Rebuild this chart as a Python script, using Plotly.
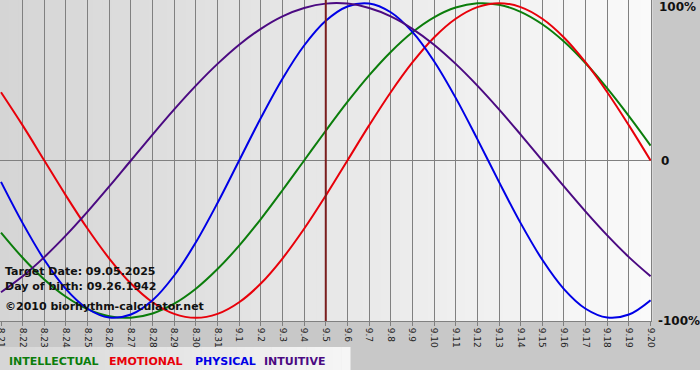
import plotly.graph_objects as go

# ---- data ----
dates = ["8.21", "8.22", "8.23", "8.24", "8.25", "8.26", "8.27", "8.28", "8.29", "8.30", "8.31",
         "9.1", "9.2", "9.3", "9.4", "9.5", "9.6", "9.7", "9.8", "9.9", "9.10",
         "9.11", "9.12", "9.13", "9.14", "9.15", "9.16", "9.17", "9.18", "9.19", "9.20"]

intellectual = [-0.458, -0.618, -0.756, -0.866, -0.945, -0.990, -0.999, -0.972, -0.910, -0.815, -0.690,
                -0.541, -0.372, -0.189, 0.000, 0.189, 0.372, 0.541, 0.690, 0.815, 0.910,
                0.972, 0.999, 0.990, 0.945, 0.866, 0.756, 0.618, 0.458, 0.282, 0.095]
emotional = [0.434, 0.223, 0.000, -0.223, -0.434, -0.623, -0.782, -0.901, -0.975, -1.000, -0.975,
             -0.901, -0.782, -0.623, -0.434, -0.223, 0.000, 0.223, 0.434, 0.623, 0.782,
             0.901, 0.975, 1.000, 0.975, 0.901, 0.782, 0.623, 0.434, 0.223, 0.000]
physical = [-0.136, -0.398, -0.631, -0.817, -0.942, -0.998, -0.979, -0.888, -0.731, -0.520, -0.270,
            0.000, 0.270, 0.520, 0.731, 0.888, 0.979, 0.998, 0.942, 0.817, 0.631,
            0.398, 0.136, -0.136, -0.398, -0.631, -0.817, -0.942, -0.998, -0.979, -0.888]
intuitive = [-0.837, -0.736, -0.614, -0.476, -0.325, -0.165, 0.000, 0.165, 0.325, 0.476, 0.614,
             0.736, 0.837, 0.916, 0.969, 0.997, 0.997, 0.969, 0.916, 0.837, 0.736,
             0.614, 0.476, 0.325, 0.165, 0.000, -0.165, -0.325, -0.476, -0.614, -0.736]

series_names = ["INTELLECTUAL", "EMOTIONAL", "PHYSICAL", "INTUITIVE"]
series_colors = ["#0b7d0b", "#e8000a", "#0000e6", "#4b0a82"]
target_date = "9.5"
info_lines = ["Target Date: 09.05.2025", "Day of birth: 09.26.1942", "\u00a92010 biorhythm-calculator.net"]
y_labels = ["100%", "0", "-100%"]

# ---- layout geometry ----
W, H = 700, 380
PLOT_W, PLOT_H = 651, 321


def px(x):
    return x / PLOT_W


def py(y):
    return (PLOT_H - y) / PLOT_H


fig = go.Figure()
for name, vals, col in zip(series_names, [intellectual, emotional, physical, intuitive], series_colors):
    fig.add_trace(go.Scatter(x=list(range(len(dates))), y=vals, mode="lines", name=name,
                             line=dict(color=col, width=2, shape="spline", smoothing=1.0),
                             hoverinfo="skip"))

shapes = []
# horizontal gradient of plot background
N = 70
c0, c1 = 213, 250
for i in range(N):
    c = round(c0 + (c1 - c0) * (i + 0.5) / N)
    shapes.append(dict(type="rect", xref="x domain", yref="y domain", x0=i / N, x1=(i + 1) / N + 0.002,
                       y0=0, y1=1, fillcolor=f"rgb({c},{c},{c})", line=dict(width=0), layer="below"))
# legend band gradient
NB = 40
for i in range(NB):
    c = round(214 + (246 - 214) * (i + 0.5) / NB)
    shapes.append(dict(type="rect", xref="paper", yref="paper", x0=px(350 * i / NB), x1=px(350 * (i + 1) / NB + 0.5),
                       y0=py(372), y1=py(347), fillcolor=f"rgb({c},{c},{c})", line=dict(width=0), layer="below"))
# white strip at the very bottom
shapes.append(dict(type="rect", xref="paper", yref="paper", x0=px(-5), x1=px(705), y0=py(385), y1=py(370),
                   fillcolor="white", line=dict(width=0), layer="below"))
# target date line
ti = dates.index(target_date)
shapes.append(dict(type="line", xref="x", yref="y domain", x0=ti, x1=ti, y0=0, y1=1,
                   line=dict(color="#7a1e1e", width=2), layer="above"))

bold = dict(family="DejaVu Sans", size=11, color="#111111", weight="bold")
bold_y = dict(family="DejaVu Sans", size=12, color="#111111", weight="bold")
annotations = []
for t, yy in zip(info_lines, [271, 286, 306]):
    annotations.append(dict(text=t, xref="paper", yref="paper", x=px(3), y=py(yy), xanchor="left",
                            yanchor="middle", showarrow=False, font=bold))
for lab, xx, yy in zip(y_labels, [657, 659, 656], [7, 161, 321]):
    annotations.append(dict(text=lab, xref="paper", yref="paper", x=px(xx), y=py(yy),
                            xanchor="left", yanchor="middle", showarrow=False, font=bold_y))
for name, col, xx in zip(series_names, series_colors, [7, 107, 193, 262]):
    annotations.append(dict(text=name, xref="paper", yref="paper", x=px(xx), y=py(361), xanchor="left",
                            yanchor="middle", showarrow=False,
                            font=dict(family="DejaVu Sans", size=11, color=col, weight="bold")))

fig.update_layout(
    width=W, height=H,
    margin=dict(l=0, r=W - PLOT_W, t=0, b=H - PLOT_H, pad=0, autoexpand=False),
    paper_bgcolor="#c8c8c8",
    plot_bgcolor="#e6e6e6",
    showlegend=False,
    shapes=shapes,
    annotations=annotations,
    xaxis=dict(range=[-0.046, 30.02], tickmode="array", tickvals=list(range(len(dates))), ticktext=dates,
               tickangle=90, tickfont=dict(family="DejaVu Sans", size=9, color="#222222"),
               ticklabeloverflow="allow",
               showgrid=True, gridcolor="#808080", gridwidth=1, zeroline=False,
               ticks="outside", ticklen=4, tickcolor="#808080",
               showline=True, linecolor="#808080", linewidth=1, fixedrange=True),
    yaxis=dict(range=[-1.02, 1.02], side="right", showgrid=False, showticklabels=False,
               zeroline=True, zerolinecolor="#808080", zerolinewidth=1,
               showline=True, linecolor="#808080", linewidth=1, fixedrange=True),
)

fig.write_html("out.html", config={"staticPlot": True},
               post_script="document.body.style.margin='0';document.body.style.padding='0';")
